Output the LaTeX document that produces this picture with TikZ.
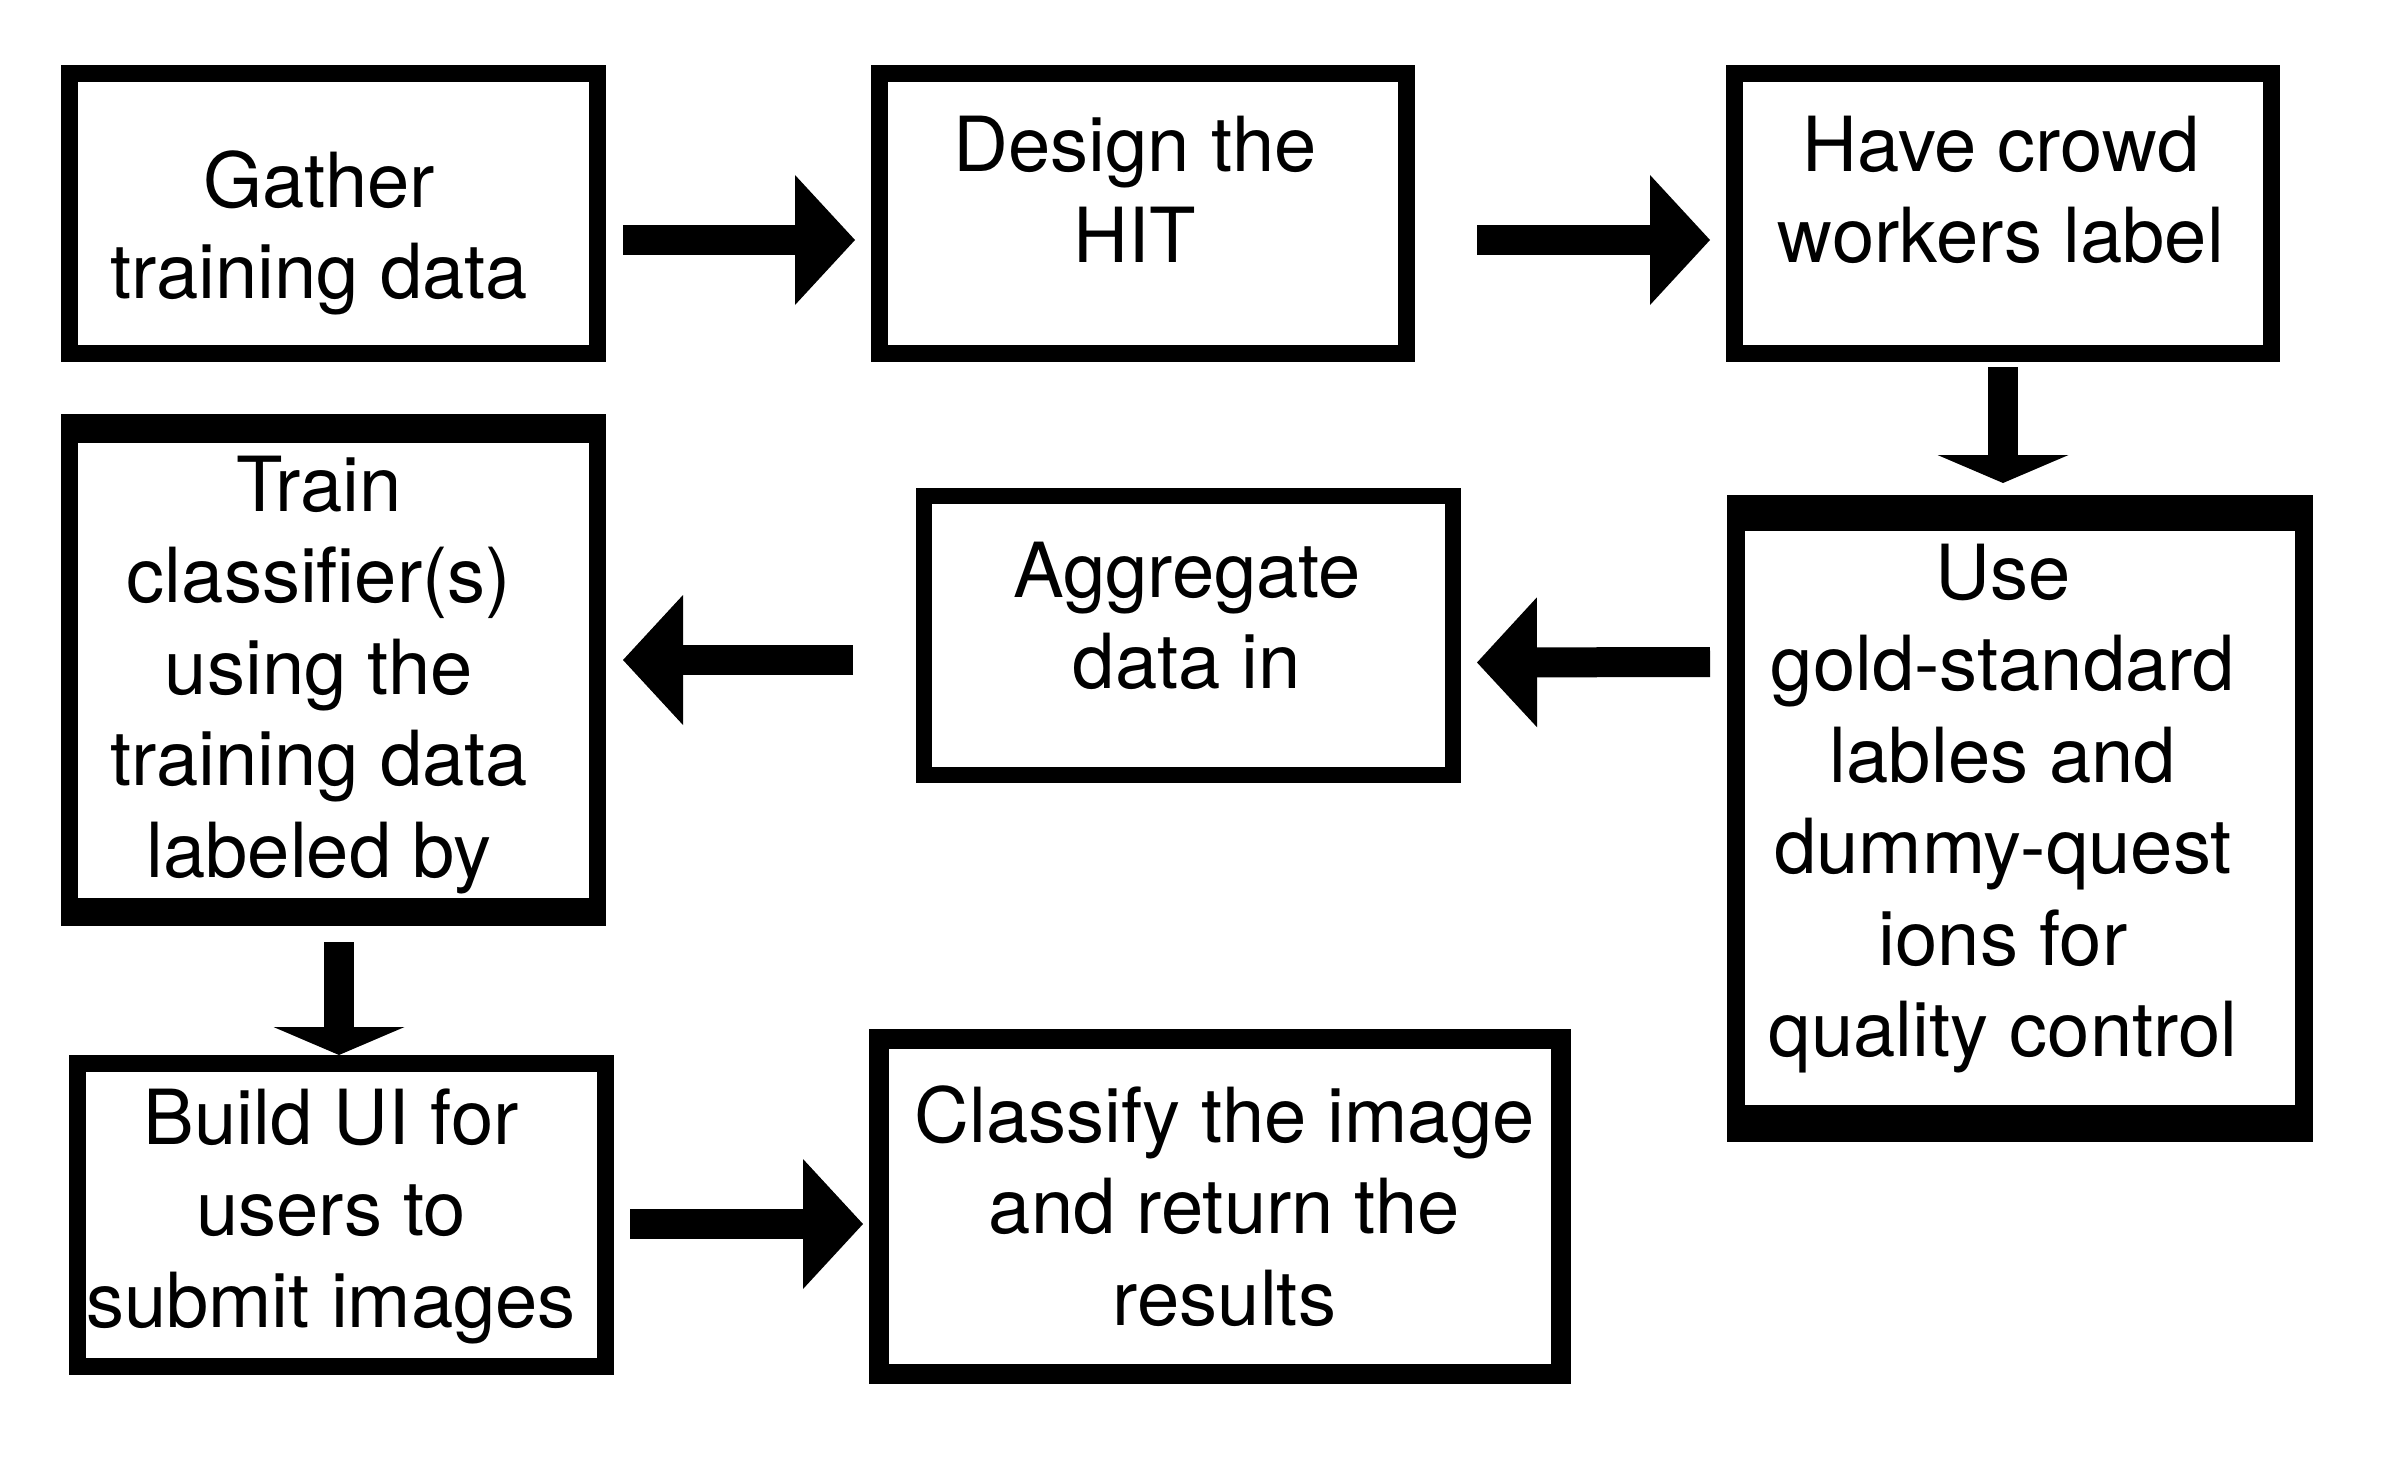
\documentclass[tikz,border=0pt]{standalone}
\usepackage{fontspec}
\setmainfont{TeX Gyre Heros}
\usetikzlibrary{arrows.meta}
\tikzset{
    stepbox/.style={rectangle, draw, line width=17pt, inner sep=0pt},
    steptext/.style={align=center, inner sep=0pt, text depth=0pt, font=\fontsize{76pt}{91.5pt}\selectfont},
    flow/.style={line width=30pt, -{Triangle[width=130pt, length=60pt, line width=0pt]}},
    flowdown/.style={line width=30pt, -{Triangle[width=131pt, length=28pt, line width=0pt]}}
}

\begin{document}
\begin{tikzpicture}[x=1pt, y=-1pt]
    \useasboundingbox (0,0) rectangle (2388,1458);

    \node (gather) [stepbox, minimum width=528pt, minimum height=280pt] at (333.5, 213.5) {};
    \node (design) [stepbox, minimum width=527pt, minimum height=280pt] at (1143, 213.5) {};
    \node (crowd) [stepbox, minimum width=537pt, minimum height=280pt] at (2003, 213.5) {};
    \node (gold) [stepbox, line width=18pt, minimum width=568pt, minimum height=629pt] at (2020, 818.5) {};
    \node (aggregate) [stepbox, line width=16pt, minimum width=529pt, minimum height=279pt] at (1188.5, 635.5) {};
    \node (train) [stepbox, minimum width=528pt, minimum height=495pt] at (333.5, 670) {};
    \node (build) [stepbox, minimum width=528pt, minimum height=303pt] at (341.5, 1215) {};
    \node (classify) [stepbox, line width=20pt, minimum width=682pt, minimum height=335pt] at (1220, 1206.5) {};

    \fill (gold.north west) rectangle ([yshift=-36pt]gold.north east);
    \fill (gold.south west) rectangle ([yshift=37pt]gold.south east);
    \fill (train.north west) rectangle ([yshift=-29pt]train.north east);
    \fill (train.south west) rectangle ([yshift=28pt]train.south east);

    \node (gathertext) [steptext] at (319, 224.5) {Gather\\training data};
    \node (designtext) [steptext] at (1135, 189.5) {Design the\\HIT};
    \node (crowdtext) [steptext] at (2001, 189.5) {Have crowd\\workers label};
    \node (goldtext) [steptext] at (2003, 800.5) {Use\\gold-standard\\lables and\\dummy-quest\\ions for\\quality control};
    \node (aggregatetext) [steptext] at (1187, 615.5) {Aggregate\\data in};
    \node (traintext) [steptext] at (319, 666.5) {Train\\classifier(s)\\using the\\training data\\labeled by};
    \node (buildtext) [steptext] at (331, 1208) {Build UI for\\users to\\submit images};
    \node (classifytext) [steptext] at (1224.5, 1205.5) {Classify the image\\and return the\\results};

    \draw ([yshift=-26.5pt]gather.east) edge [flow, shorten <=17pt, shorten >=16pt] ([yshift=-26.5pt]design.west);
    \draw ([yshift=-26.5pt]design.east) edge [flow, shorten <=62pt, shorten >=16pt] ([yshift=-26.5pt]crowd.west);
    \draw (crowd.south) edge [flowdown, shorten <=5pt, shorten >=12pt] (crowd.south |- gold.north);
    \draw ([yshift=156.5pt]gold.west) edge [flow, shorten <=17pt, shorten >=16pt] ([yshift=-27pt]aggregate.east);
    \draw ([yshift=-24.5pt]aggregate.west) edge [flow, shorten <=63pt, shorten >=17pt] ([yshift=10pt]train.east);
    \draw ([xshift=5.5pt]train.south) edge [flowdown, shorten <=16pt] ([xshift=-2.5pt]build.north);
    \draw ([yshift=-9pt]build.east) edge [flow, shorten <=16pt, shorten >=6pt] ([yshift=-17.5pt]classify.west);
\end{tikzpicture}
\end{document}
